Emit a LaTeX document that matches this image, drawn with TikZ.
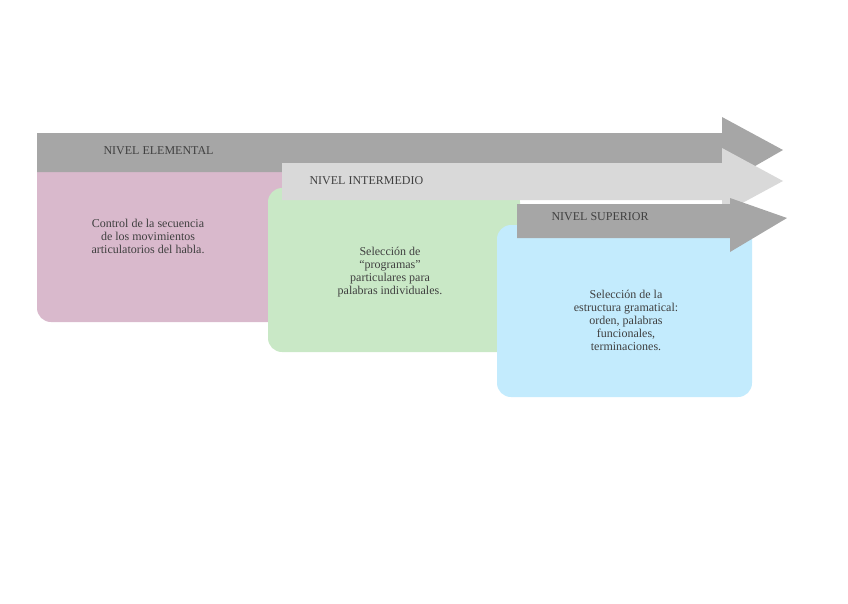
\documentclass[tikz,border=0pt]{standalone}
\usepackage{fontspec}
\setmainfont{Liberation Serif}
\begin{document}
\begin{tikzpicture}[x=1pt,y=-1pt,
  box/.style={rounded corners=14pt,draw=none},
  lbl/.style={text=black!75,font=\fontsize{12}{13}\selectfont,align=center},
  hd/.style={text=black!75,font=\fontsize{12}{13}\selectfont,anchor=west}]
\useasboundingbox (0,0) rectangle (848,603);
\definecolor{pinkb}{HTML}{D9B9CC}
\definecolor{greenb}{HTML}{C9E8C6}
\definecolor{blueb}{HTML}{C3EBFD}
\definecolor{dgray}{HTML}{A6A6A6}
\definecolor{lgray}{HTML}{D9D9D9}
\fill[pinkb,box] (37,150) rectangle (285,322);
\fill[greenb,box] (268,188) rectangle (520,352);
\fill[blueb,box] (497,225) rectangle (752,397);
\fill[dgray] (37,133) -- (722,133) -- (722,117) -- (783,150) -- (722,185) -- (722,172) -- (37,172) -- cycle;
\fill[lgray] (282,163) -- (722,163) -- (722,148) -- (783,181) -- (722,214) -- (722,200) -- (282,200) -- cycle;
\fill[dgray] (517,204) -- (730,204) -- (730,198) -- (787,218) -- (730,252) -- (730,238) -- (517,238) -- cycle;
\node[hd] (h1) at (100,151) {NIVEL ELEMENTAL};
\node[hd] (h2) at (306,181) {NIVEL INTERMEDIO};
\node[hd] (h3) at (548,217) {NIVEL SUPERIOR};
\node[lbl] (t1) at (148,236) {Control de la secuencia\\de los movimientos\\articulatorios del habla.};
\node[lbl] (t2) at (390,272) {Selección de\\“programas”\\particulares para\\palabras individuales.};
\node[lbl] (t3) at (626,320) {Selección de la\\estructura gramatical:\\orden, palabras\\funcionales,\\terminaciones.};
\end{tikzpicture}
\end{document}
